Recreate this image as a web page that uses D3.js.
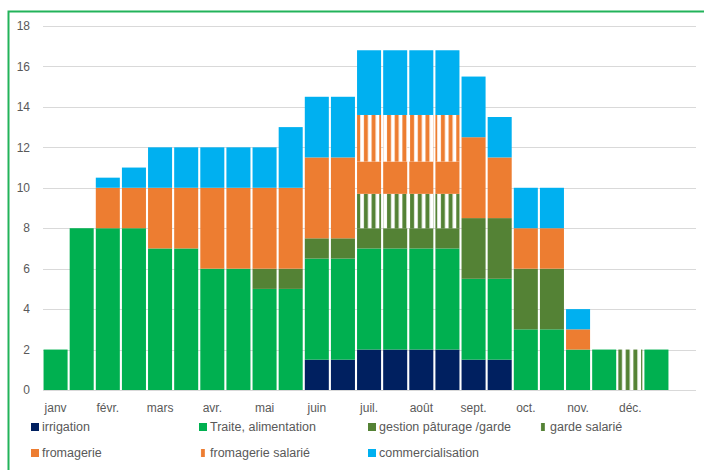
<!DOCTYPE html>
<html>
<head>
<meta charset="utf-8">
<script src="https://cdn.jsdelivr.net/npm/d3@7"></script>
<style>
  body { margin: 0; background: #fff; }
  text { font-family: "Liberation Sans", Arial, sans-serif; fill: #595959; }
</style>
</head>
<body>
<div id="chart"></div>
<script>
// half-month slots, label shown on the first half of each month
const slots = d3.range(24);
const monthLabels = ["janv", "févr.", "mars", "avr.", "mai", "juin", "juil.", "août", "sept.", "oct.", "nov.", "déc."];
const yTicks = [0, 2, 4, 6, 8, 10, 12, 14, 16, 18];

const irrigation = [0, 0, 0, 0, 0, 0, 0, 0, 0, 0, 1.5, 1.5, 2, 2, 2, 2, 1.5, 1.5, 0, 0, 0, 0, 0, 0];
const traite = [2, 8, 8, 8, 7, 7, 6, 6, 5, 5, 5, 5, 5, 5, 5, 5, 4, 4, 3, 3, 2, 2, 0, 2];
const gestion = [0, 0, 0, 0, 0, 0, 0, 0, 1, 1, 1, 1, 1, 1, 1, 1, 3, 3, 3, 3, 0, 0, 0, 0];
const gardeSalarie = [0, 0, 0, 0, 0, 0, 0, 0, 0, 0, 0, 0, 1.7, 1.7, 1.7, 1.7, 0, 0, 0, 0, 0, 0, 2, 0];
const fromagerie = [0, 0, 2, 2, 3, 3, 4, 4, 4, 4, 4, 4, 1.6, 1.6, 1.6, 1.6, 4, 3, 2, 2, 1, 0, 0, 0];
const fromagerieSalarie = [0, 0, 0, 0, 0, 0, 0, 0, 0, 0, 0, 0, 2.3, 2.3, 2.3, 2.3, 0, 0, 0, 0, 0, 0, 0, 0];
const commercialisation = [0, 0, 0.5, 1, 2, 2, 2, 2, 2, 3, 3, 3, 3.2, 3.2, 3.2, 3.2, 3, 2, 2, 2, 1, 0, 0, 0];

const seriesNames = ["irrigation", "Traite, alimentation", "gestion pâturage /garde", "garde salarié",
  "fromagerie", "fromagerie salarié", "commercialisation"];
const seriesValues = [irrigation, traite, gestion, gardeSalarie, fromagerie, fromagerieSalarie, commercialisation];

const fills = ["#002060", "#00B050", "#548235", "url(#stripeGreen)", "#ED7D31", "url(#stripeOrange)", "#00B0F0"];

const width = 704, height = 470;
const svg = d3.select("#chart").append("svg")
  .attr("width", width)
  .attr("height", height);

// stripe patterns for the "salarié" series
const defs = svg.append("defs");
[["stripeGreen", "#548235"], ["stripeOrange", "#ED7D31"]].forEach(([id, col]) => {
  const p = defs.append("pattern")
    .attr("id", id)
    .attr("patternUnits", "userSpaceOnUse")
    .attr("width", 7.7).attr("height", 10);
  p.append("rect").attr("width", 7.7).attr("height", 10).attr("fill", "#fff");
  p.append("rect").attr("x", 2).attr("width", 4).attr("height", 10).attr("fill", col);
});

// outer frame (cropped on right and bottom)
svg.append("rect")
  .attr("x", 8.5).attr("y", 11.5)
  .attr("width", 800).attr("height", 600)
  .attr("fill", "none")
  .attr("stroke", "#22b35a")
  .attr("stroke-width", 2);

const x = d3.scaleBand().domain(slots).range([42.5, 669.5]).paddingInner(0.08).paddingOuter(0.04);
const y = d3.scaleLinear().domain([0, 18]).range([390, 26]);

// gridlines
svg.append("g")
  .selectAll("line")
  .data(yTicks)
  .join("line")
  .attr("x1", 43).attr("x2", 696)
  .attr("y1", d => Math.round(y(d)) + 0.5)
  .attr("y2", d => Math.round(y(d)) + 0.5)
  .attr("stroke", "#d9d9d9")
  .attr("stroke-width", 1);

// y tick labels
svg.append("g")
  .selectAll("text")
  .data(yTicks)
  .join("text")
  .attr("x", 30)
  .attr("y", d => y(d))
  .attr("dy", "0.35em")
  .attr("text-anchor", "end")
  .attr("font-size", 12)
  .text(d => d);

// stack the series
const table = slots.map(i => {
  const row = { slot: i };
  seriesNames.forEach((n, k) => row[n] = seriesValues[k][i]);
  return row;
});
const stacked = d3.stack().keys(seriesNames)(table);

svg.append("g")
  .selectAll("g")
  .data(stacked)
  .join("g")
  .attr("fill", (d, k) => fills[k])
  .selectAll("rect")
  .data(d => d.filter(s => s[1] - s[0] > 0))
  .join("rect")
  .attr("x", d => x(d.data.slot))
  .attr("y", d => y(d[1]))
  .attr("width", x.bandwidth())
  .attr("height", d => y(d[0]) - y(d[1]));

// month labels on the first half of each month
svg.append("g")
  .selectAll("text")
  .data(monthLabels)
  .join("text")
  .attr("x", (d, i) => x(i * 2) + x.bandwidth() / 2)
  .attr("y", 408)
  .attr("dy", "0.35em")
  .attr("text-anchor", "middle")
  .attr("font-size", 12)
  .text(d => d);

// legend
const legendPos = [[31, 427], [199, 427], [368, 427], [539, 427], [31, 453], [199, 453], [368, 453]];
const legend = svg.append("g")
  .selectAll("g")
  .data(seriesNames)
  .join("g")
  .attr("transform", (d, i) => `translate(${legendPos[i][0]},${legendPos[i][1]})`);

legend.append("rect")
  .attr("x", 0).attr("y", -4)
  .attr("width", (d, i) => (i === 3 || i === 5) ? 6 : 8)
  .attr("height", 8)
  .attr("fill", (d, i) => fills[i]);

legend.append("text")
  .attr("x", 11)
  .attr("dy", "0.35em")
  .attr("font-size", 12.5)
  .text(d => d);
</script>
</body>
</html>
